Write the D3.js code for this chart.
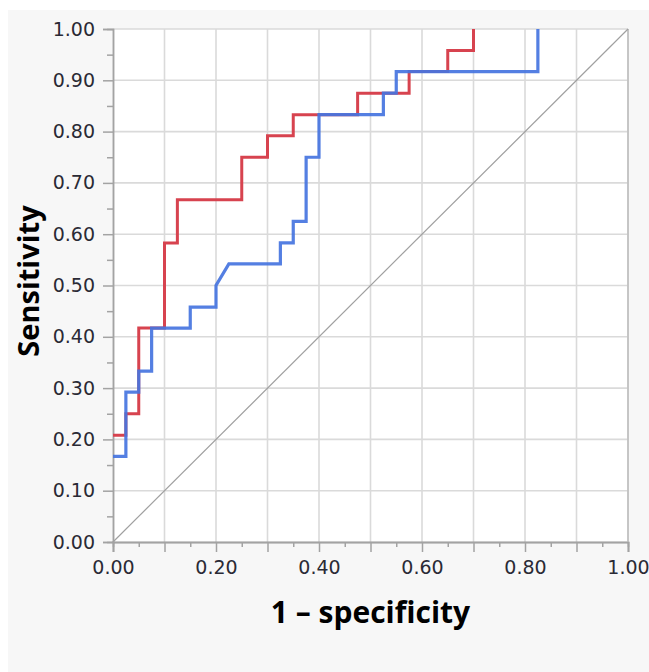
<!DOCTYPE html>
<html>
<head>
<meta charset="utf-8">
<script src="https://cdn.jsdelivr.net/npm/d3@7"></script>
<style>
  body { margin: 0; background: #fff; }
</style>
</head>
<body>
<svg id="chart"></svg>
<script>
// ROC curve vertices
let redFpr = [0, 0.025, 0.025, 0.05, 0.05, 0.10, 0.10, 0.125, 0.125, 0.25, 0.25, 0.30, 0.30, 0.35, 0.35, 0.475, 0.475, 0.575, 0.575, 0.65, 0.65, 0.70, 0.70]
let redTpr = [0.208, 0.208, 0.25, 0.25, 0.417, 0.417, 0.583, 0.583, 0.667, 0.667, 0.75, 0.75, 0.792, 0.792, 0.833, 0.833, 0.875, 0.875, 0.917, 0.917, 0.958, 0.958, 1.0]

let blueFpr = [0, 0.025, 0.025, 0.05, 0.05, 0.075, 0.075, 0.15, 0.15, 0.20, 0.20, 0.225, 0.325, 0.325, 0.35, 0.35, 0.375, 0.375, 0.40, 0.40, 0.525, 0.525, 0.55, 0.55, 0.825, 0.825]
let blueTpr = [0.167, 0.167, 0.292, 0.292, 0.333, 0.333, 0.417, 0.417, 0.458, 0.458, 0.5, 0.542, 0.542, 0.583, 0.583, 0.625, 0.625, 0.75, 0.75, 0.833, 0.833, 0.875, 0.875, 0.917, 0.917, 1.0]

let diagFpr = [0, 1]
let diagTpr = [0, 1]

let yTicks = [0, 0.1, 0.2, 0.3, 0.4, 0.5, 0.6, 0.7, 0.8, 0.9, 1.0]
let xTicks = [0, 0.2, 0.4, 0.6, 0.8, 1.0]
let gridTicks = [0.1, 0.2, 0.3, 0.4, 0.5, 0.6, 0.7, 0.8, 0.9, 1.0]
let minorTicks = [0.05, 0.15, 0.25, 0.35, 0.45, 0.55, 0.65, 0.75, 0.85, 0.95]

let width = 649
let height = 672
let plotLeft = 113, plotRight = 628, plotTop = 29, plotBottom = 542

let svg = d3.select("#chart")
  .attr("width", width)
  .attr("height", height)

// panel background
svg.append("rect")
  .attr("x", 8).attr("y", 10)
  .attr("width", width - 8).attr("height", height - 10)
  .attr("fill", "#f7f7f7")

svg.append("rect")
  .attr("x", plotLeft).attr("y", plotTop)
  .attr("width", plotRight - plotLeft).attr("height", plotBottom - plotTop)
  .attr("fill", "#fff")

let xScale = d3.scaleLinear().domain([0, 1]).range([plotLeft, plotRight])
let yScale = d3.scaleLinear().domain([0, 1]).range([plotBottom, plotTop])

// grid
svg.append("g").selectAll("line")
  .data(gridTicks)
  .enter().append("line")
  .attr("x1", plotLeft).attr("x2", plotRight)
  .attr("y1", d => yScale(d)).attr("y2", d => yScale(d))
  .attr("stroke", "#dadada").attr("stroke-width", 1.6)

svg.append("g").selectAll("line")
  .data(gridTicks)
  .enter().append("line")
  .attr("y1", plotTop).attr("y2", plotBottom)
  .attr("x1", d => xScale(d)).attr("x2", d => xScale(d))
  .attr("stroke", "#dadada").attr("stroke-width", 1.6)

// axes
let axisStyle = g => {
  g.select(".domain").attr("stroke", "#a3a3a3").attr("stroke-width", 1.5)
  g.selectAll(".tick line").attr("stroke", "#a3a3a3").attr("stroke-width", 1.5)
  g.selectAll("text")
    .attr("fill", "#2a2a35")
    .style("font-family", "'DejaVu Sans', Verdana, sans-serif")
    .style("font-size", "19px")
}

// minor ticks first
svg.append("g")
  .attr("transform", "translate(" + plotLeft + ",0)")
  .call(d3.axisLeft(yScale).tickValues(minorTicks).tickSize(6).tickFormat(""))
  .call(axisStyle)

svg.append("g")
  .attr("transform", "translate(0," + plotBottom + ")")
  .call(d3.axisBottom(xScale).tickValues(minorTicks).tickSize(5).tickFormat(""))
  .call(axisStyle)

svg.append("g")
  .attr("transform", "translate(0," + plotBottom + ")")
  .call(d3.axisBottom(xScale).tickValues([0.1, 0.3, 0.5, 0.7, 0.9]).tickSize(10).tickFormat(""))
  .call(axisStyle)

svg.append("g")
  .attr("id", "y-axis")
  .attr("transform", "translate(" + plotLeft + ",0)")
  .call(d3.axisLeft(yScale).tickValues(yTicks).tickSize(10).tickPadding(8).tickFormat(d3.format(".2f")))
  .call(axisStyle)

svg.append("g")
  .attr("id", "x-axis")
  .attr("transform", "translate(0," + plotBottom + ")")
  .call(d3.axisBottom(xScale).tickValues(xTicks).tickSize(10).tickPadding(9).tickFormat(d3.format(".2f")))
  .call(axisStyle)

// right frame line
svg.append("line")
  .attr("x1", plotRight).attr("x2", plotRight)
  .attr("y1", plotTop).attr("y2", plotBottom)
  .attr("stroke", "#bdbdbd").attr("stroke-width", 1.5)

let line = d3.line()
  .x(d => xScale(d[0]))
  .y(d => yScale(d[1]))

svg.append("path")
  .datum(d3.zip(diagFpr, diagTpr))
  .attr("d", line)
  .attr("fill", "none")
  .attr("stroke", "#a0a0a0")
  .attr("stroke-width", 1.2)

svg.append("path")
  .datum(d3.zip(redFpr, redTpr))
  .attr("d", line)
  .attr("fill", "none")
  .attr("stroke", "#d7434f")
  .attr("stroke-width", 3)

svg.append("path")
  .datum(d3.zip(blueFpr, blueTpr))
  .attr("d", line)
  .attr("fill", "none")
  .attr("stroke", "#4574e0")
  .attr("stroke-width", 3.2)
  .attr("stroke-opacity", 0.92)

// axis titles
svg.append("text")
  .text("1 – specificity")
  .attr("x", (plotLeft + plotRight) / 2)
  .attr("y", 623)
  .attr("text-anchor", "middle")
  .style("font-family", "'Open Sans', sans-serif")
  .style("font-weight", "bold")
  .style("font-size", "30px")
  .attr("fill", "#000")

svg.append("text")
  .text("Sensitivity")
  .attr("transform", "translate(39,281) rotate(-90)")
  .attr("text-anchor", "middle")
  .style("font-family", "'Open Sans', sans-serif")
  .style("font-weight", "bold")
  .style("font-size", "29px")
  .attr("fill", "#000")
</script>
</body>
</html>
